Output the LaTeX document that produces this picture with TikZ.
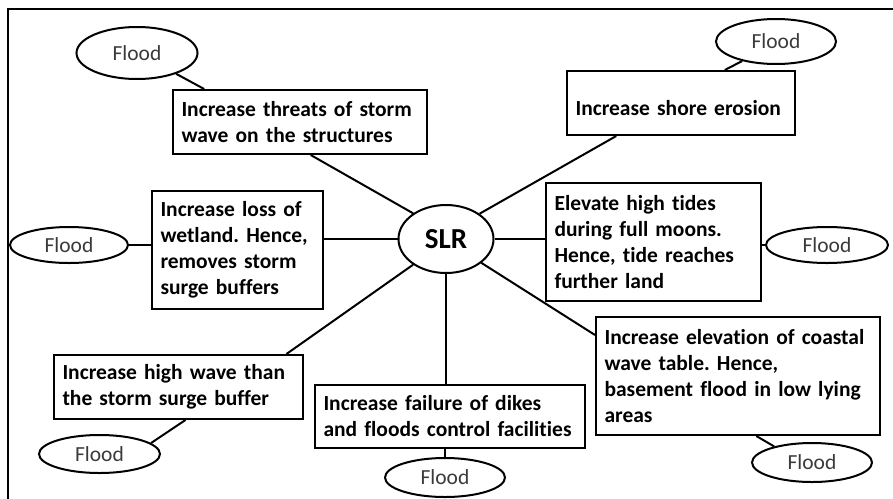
\documentclass[tikz,border=0pt]{standalone}
\usepackage{fontspec}
\setmainfont{Carlito}[Ligatures=NoCommon]
\usetikzlibrary{shapes.geometric}
\definecolor{floodgrey}{HTML}{3A3A3A}
\frenchspacing
\hyphenpenalty=10000
\exhyphenpenalty=10000

\begin{document}
\begin{tikzpicture}[x=1pt, y=-1pt, line width=2pt,
  effect/.style={draw, align=left, inner xsep=8.5pt, inner ysep=0pt, font=\bfseries\fontsize{21.5}{26}\selectfont},
  flood/.style={draw, ellipse, inner sep=0pt, minimum width=120pt, text=floodgrey, font=\fontsize{21.5}{26}\selectfont},
  link/.style={draw, line width=2pt}]
\clip (0,0) rectangle (893,498);
\draw[line width=2.6pt] (8,9) rectangle (910,515);

% centre
\node[draw, ellipse, inner sep=0pt, minimum width=95pt, minimum height=68pt, font=\bfseries\fontsize{29}{34}\selectfont] (slr) at (446,239) {SLR};

% effects of SLR
\node[effect, text width=237pt, minimum height=64pt] (threats) at (300,122) {Increase threats of storm\\wave on the structures};
\node[effect, text width=154pt, minimum height=118pt] (wetland) at (237.5,250) {Increase loss of\\wetland. Hence,\\removes storm\\surge buffers};
\node[effect, text width=211pt, minimum height=64pt] (shore) at (681,103) {\mbox{}\\Increase shore erosion};
\node[effect, text width=198pt, minimum height=118pt] (tides) at (653.5,242) {Elevate high tides\\during full moons.\\Hence, tide reaches\\further land};
\node[effect, text width=267pt, minimum height=118pt] (coastal) at (738,376) {Increase elevation of coastal\\wave table. Hence,\\basement flood in low lying\\areas};
\node[effect, text width=253pt, minimum height=63pt] (dikes) at (450,416.5) {Increase failure of dikes\\and floods control facilities};
\node[effect, text width=232pt, minimum height=64pt] (highwave) at (178.5,387) {Increase high wave than\\the storm surge buffer};

% floods
\node[flood, minimum width=121pt, minimum height=52pt] (floodA) at (137,53) {Flood};
\node[flood, minimum height=45pt] (floodB) at (776,41.5) {Flood};
\node[flood, minimum width=118pt, minimum height=36pt] (floodC) at (69,245) {Flood};
\node[flood, minimum width=122pt, minimum height=36pt] (floodD) at (827,245) {Flood};
\node[flood, minimum height=39pt] (floodE) at (812,462.5) {Flood};
\node[flood, minimum height=39pt] (floodF) at (445,477.5) {Flood};
\node[flood, minimum width=121pt, minimum height=38pt] (floodG) at (99.5,454) {Flood};

% links
\draw[link] (slr.142.6) -- (threats.-72.6);
\draw[link] (threats.161.9) -- (floodA.-28.3);
\draw[link] (slr.west) -- (slr.west -| wetland.east);
\draw[link] (wetland.west |- floodC.east) -- (floodC.east);
\draw[link] (slr.37.4) -- (shore.-153.8);
\draw[link] (shore.37.3) -- (floodB.-150.3);
\draw[link] (slr.east) -- (slr.east -| tides.west);
\draw[link] (tides.east |- floodD.west) -- (floodD.west);
\draw[link] (slr.-34.4) -- (coastal.164.2);
\draw[link] (coastal.-73) -- (floodE.157.3);
\draw[link] (slr.south) -- (slr.south |- dikes.north);
\draw[link] (floodF.north |- dikes.south) -- (floodF.north);
\draw[link] (slr.-142.6) -- (highwave.17.2);
\draw[link] (highwave.-78.5) -- (floodG.12.8);
\end{tikzpicture}
\end{document}
